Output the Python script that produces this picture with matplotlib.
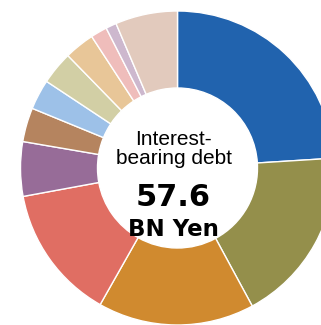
import matplotlib
matplotlib.use("Agg")
import matplotlib.pyplot as plt

categories = ["Lender 1", "Lender 2", "Lender 3", "Lender 4", "Lender 5", "Lender 6",
              "Lender 7", "Lender 8", "Lender 9", "Lender 10", "Lender 11", "Others"]
shares = [24.0, 18.1, 16.1, 13.9, 5.6, 3.5, 3.1, 3.4, 3.1, 1.7, 1.1, 6.4]
colors = ["#2163AE", "#948F4B", "#D08A2F", "#E06E63", "#976C98", "#B5845F",
          "#9DC1E8", "#D2CFA5", "#E8C698", "#EFBDBB", "#CDB8CE", "#E2CABD"]
total_label = "57.6"

W, H = 321, 325
fig = plt.figure(figsize=(W / 100, H / 100), dpi=100)
ax = fig.add_axes([0, 0, 1, 1])

cx, cy = 177.5, H - 168
ax.pie(shares, colors=colors, startangle=90, counterclock=False,
       center=(cx, cy), radius=157, frame=True,
       wedgeprops=dict(width=77, edgecolor="white", linewidth=1.0))
ax.set_xlim(0, W)
ax.set_ylim(0, H)
ax.set_aspect("equal")
ax.axis("off")

tx = 173.5
ax.text(tx, H - 145, "Interest-", ha="center", va="baseline",
        fontsize=15, family="Liberation Sans", color="black")
ax.text(tx, H - 164.5, "bearing debt", ha="center", va="baseline",
        fontsize=15, family="Liberation Sans", color="black")
ax.text(tx, H - 205.7, total_label, ha="center", va="baseline",
        fontsize=21.9, family="DejaVu Sans", fontweight="bold", color="black")
ax.text(tx, H - 236, "BN Yen", ha="center", va="baseline",
        fontsize=16.5, family="DejaVu Sans", fontweight="bold", color="black")

fig.savefig("out.png", dpi=100)
